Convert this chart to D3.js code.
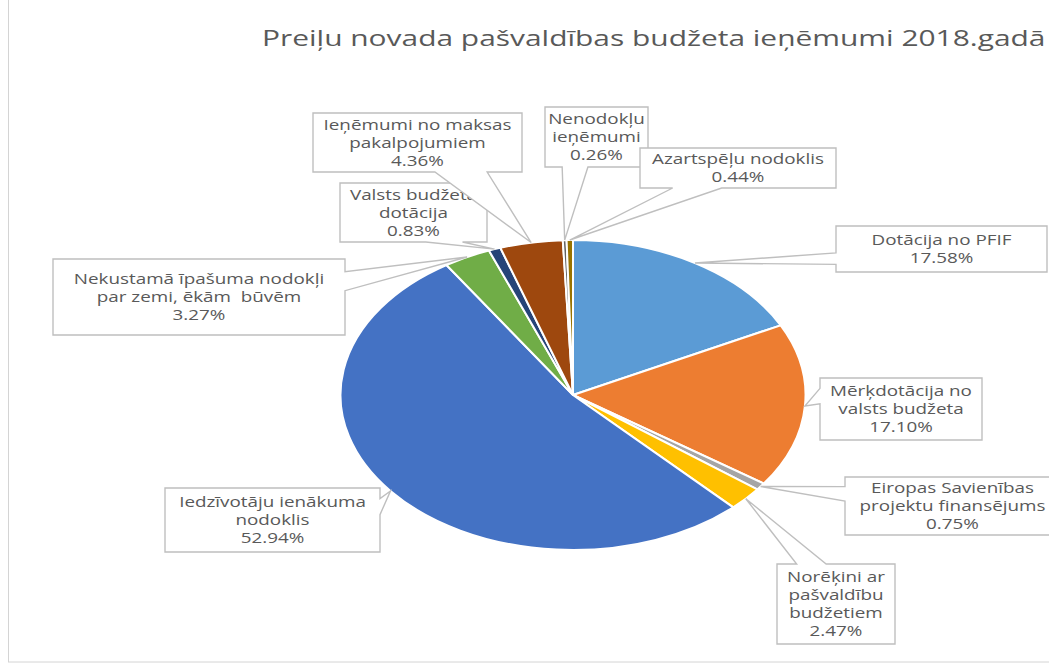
<!DOCTYPE html>
<html>
<head>
<meta charset="utf-8">
<script src="https://cdnjs.cloudflare.com/ajax/libs/d3/7.8.5/d3.min.js"></script>
<style>
  body { margin: 0; background: #fff; overflow: hidden; }
  text { font-family: "Open Sans", sans-serif; fill: #595959; }
</style>
</head>
<body>
<div id="chart"></div>
<script>
var title = "Preiļu novada pašvaldības budžeta ieņēmumi 2018.gadā";
var categories = ["Dotācija no PFIF", "Mērķdotācija no valsts budžeta",
  "Eiropas Savienības projektu finansējums", "Norēķini ar pašvaldību budžetiem",
  "Iedzīvotāju ienākuma nodoklis", "Nekustamā īpašuma nodokļi par zemi, ēkām  būvēm",
  "Valsts budžeta dotācija", "Ieņēmumi no maksas pakalpojumiem",
  "Nenodokļu ieņēmumi", "Azartspēļu nodoklis"];
var values = [17.58, 17.10, 0.75, 2.47, 52.94, 3.27, 0.83, 4.36, 0.26, 0.44];
// how the category names wrap inside the label boxes
var labelLines = [["Dotācija no PFIF"], ["Mērķdotācija no", "valsts budžeta"],
  ["Eiropas Savienības", "projektu finansējums"], ["Norēķini ar", "pašvaldību", "budžetiem"],
  ["Iedzīvotāju ienākuma", "nodoklis"], ["Nekustamā īpašuma nodokļi", "par zemi, ēkām  būvēm"],
  ["Valsts budžeta", "dotācija"], ["Ieņēmumi no maksas", "pakalpojumiem"],
  ["Nenodokļu", "ieņēmumi"], ["Azartspēļu nodoklis"]];
var colors = ["#5B9BD5", "#ED7D31", "#A5A5A5", "#FFC000", "#4472C4",
  "#70AD47", "#264478", "#9E480E", "#636363", "#997300"];

// label boxes [x, y, w, h] in page pixels
var boxes = [[836, 226, 211, 46], [820, 378, 162, 62], [845, 477, 215, 58],
  [777, 564, 118, 80], [165, 488, 215, 64], [53, 259, 292, 76],
  [340, 183, 147, 59], [313, 113, 209, 59], [545, 107, 103, 60], [640, 148, 196, 40]];

var width = 1049, height = 666;
var cx = 573, cy = 395, r = 155, sx = 1.5;   // the picture is stretched sideways
var txs = 1.3, lineH = 18;

var svg = d3.select("#chart").append("svg")
  .attr("width", width).attr("height", height);

// frame
svg.append("rect").attr("x", 8.5).attr("y", -2).attr("width", 1060).attr("height", 664)
  .attr("fill", "none").attr("stroke", "#d4d4d4").attr("stroke-width", 1);

svg.append("text")
  .attr("transform", "translate(262,46) scale(1.425,1)")
  .style("font-size", "21px")
  .text(title);

var pie = d3.pie().sort(null).value(function(d) { return d; });
var arcs = pie(values);
var arc = d3.arc().innerRadius(0).outerRadius(r);

var g = svg.append("g").attr("transform", "translate(" + cx + "," + cy + ") scale(" + sx + ",1)");
g.selectAll("path").data(arcs).enter().append("path")
  .attr("d", arc)
  .attr("fill", function(d, i) { return colors[i]; })
  .attr("stroke", "#fff").attr("stroke-width", 2)
  .attr("vector-effect", "non-scaling-stroke");

function callout(b, ax, ay) {
  var x = b[0], y = b[1], w = b[2], h = b[3];
  var dx = ax - (x + w / 2), dy = ay - (y + h / 2);
  var p = [];
  var fx = dx < 0 ? [2 / 12, 5 / 12] : [7 / 12, 10 / 12];
  var fy = dy < 0 ? [2 / 12, 5 / 12] : [7 / 12, 10 / 12];
  var horiz = Math.abs(dx) / w > Math.abs(dy) / h;
  p.push([x, y]);
  if (!horiz && dy < 0) p.push([x + w * fx[0], y], [ax, ay], [x + w * fx[1], y]);
  p.push([x + w, y]);
  if (horiz && dx > 0) p.push([x + w, y + h * fy[0]], [ax, ay], [x + w, y + h * fy[1]]);
  p.push([x + w, y + h]);
  if (!horiz && dy > 0) p.push([x + w * fx[1], y + h], [ax, ay], [x + w * fx[0], y + h]);
  p.push([x, y + h]);
  if (horiz && dx < 0) p.push([x, y + h * fy[1]], [ax, ay], [x, y + h * fy[0]]);
  return "M" + p.map(function(q) { return q[0] + "," + q[1]; }).join("L") + "Z";
}

var fmt = d3.format(".2f");
arcs.forEach(function(d, i) {
  var a = (d.startAngle + d.endAngle) / 2;
  var ax = cx + sx * r * Math.sin(a), ay = cy - r * Math.cos(a);
  var b = boxes[i];
  var lab = svg.append("g");
  lab.append("path")
    .attr("d", callout(b, ax, ay))
    .attr("fill", "#fff").attr("stroke", "#bfbfbf").attr("stroke-width", 1.4);
  var lines = labelLines[i].concat([fmt(values[i]) + "%"]);
  lines.forEach(function(t, j) {
    var ty = b[1] + b[3] / 2 + (j - (lines.length - 1) / 2) * lineH;
    lab.append("text")
      .attr("transform", "translate(" + (b[0] + b[2] / 2) + "," + ty + ") scale(" + txs + ",1)")
      .attr("text-anchor", "middle").attr("dy", "0.36em")
      .style("font-size", "14.5px").style("white-space", "pre")
      .text(t);
  });
});
</script>
</body>
</html>
